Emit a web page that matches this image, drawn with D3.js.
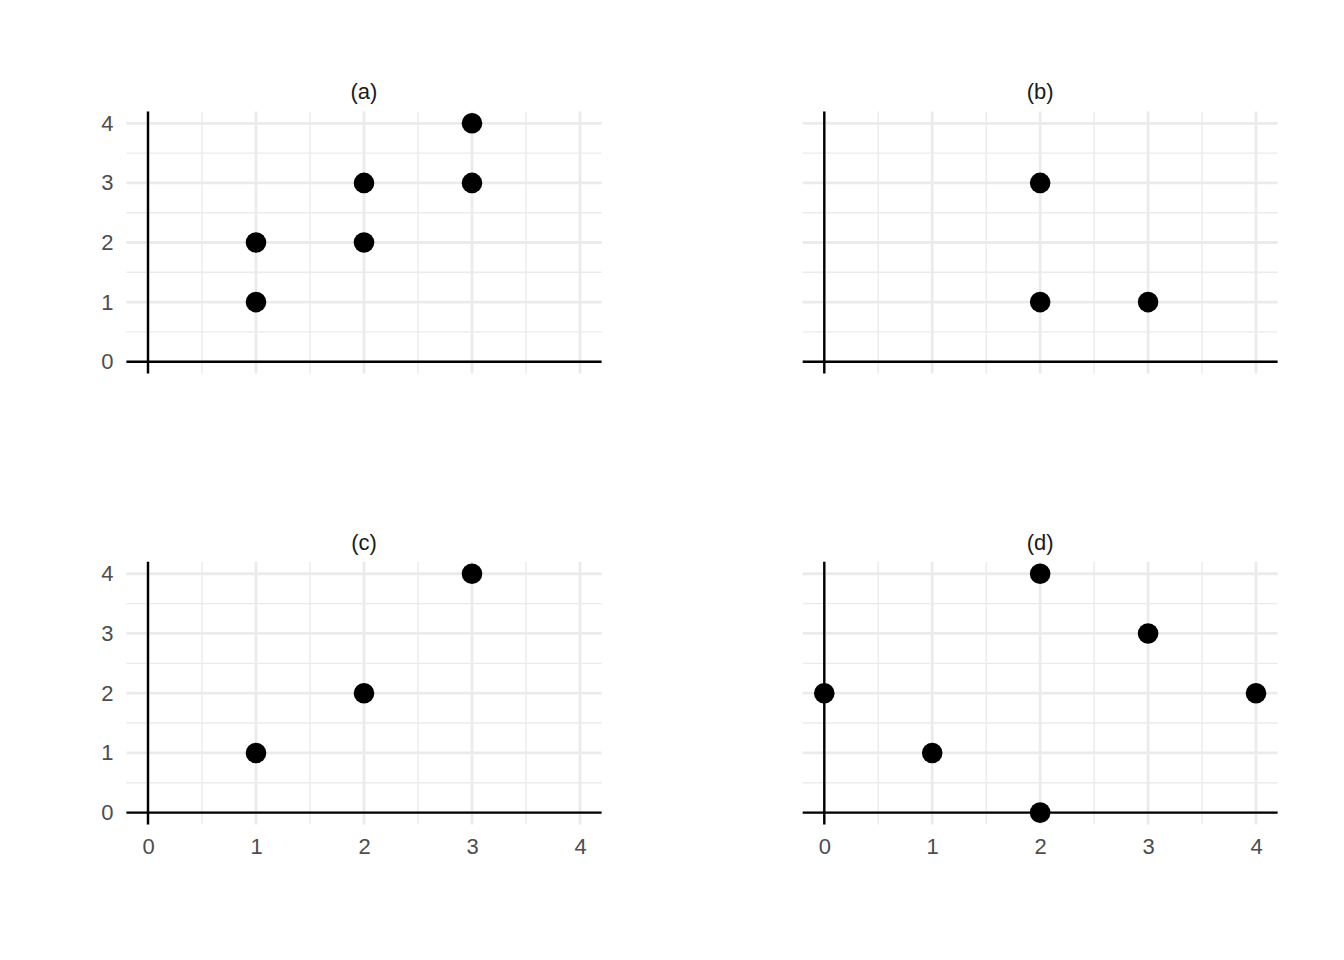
<!DOCTYPE html>
<html>
<head>
<meta charset="utf-8">
<script src="https://cdn.jsdelivr.net/npm/d3@7"></script>
<style>
  body { margin: 0; background: #fff; }
  text { font-family: "Liberation Sans", Arial, sans-serif; }
</style>
</head>
<body>
<svg id="j-svg" width="1344" height="960" viewBox="0 0 1344 960"></svg>
<script>
'use strict';

/* global d3 */

var panelTitles = ['(a)', '(b)', '(c)', '(d)'];
var ticks = [0, 1, 2, 3, 4];
var minorTicks = [0.5, 1.5, 2.5, 3.5];

var xA = [1, 1, 2, 2, 3, 3];
var yA = [1, 2, 2, 3, 3, 4];
var xB = [2, 2, 3];
var yB = [1, 3, 1];
var xC = [1, 2, 3];
var yC = [1, 2, 4];
var xD = [0, 1, 2, 2, 3, 4];
var yD = [2, 1, 0, 4, 3, 2];

var seriesX = [xA, xB, xC, xD];
var seriesY = [yA, yB, yC, yD];

var svg = d3.select('#j-svg');

var cols = [[126.4, 601.6], [802.7, 1277.6]];
var rows = [[111.4, 373.6], [561.8, 824.6]];
var fontSize = 22;

panelTitles.forEach(function (title, i) {
  var col = cols[i % 2];
  var row = rows[Math.floor(i / 2)];
  var isBottom = i >= 2;

  var x = d3.scaleLinear().domain([-0.2, 4.2]).range(col);
  var y = d3.scaleLinear().domain([-0.2, 4.2]).range([row[1], row[0]]);

  var g = svg.append('g');

  // minor grid
  g.append('g').selectAll('line').data(minorTicks).enter().append('line')
    .attr('x1', function (d) { return x(d); }).attr('x2', function (d) { return x(d); })
    .attr('y1', row[0]).attr('y2', row[1])
    .attr('stroke', '#ebebeb').attr('stroke-width', 1.4);
  g.append('g').selectAll('line').data(minorTicks).enter().append('line')
    .attr('y1', function (d) { return y(d); }).attr('y2', function (d) { return y(d); })
    .attr('x1', col[0]).attr('x2', col[1])
    .attr('stroke', '#ebebeb').attr('stroke-width', 1.4);

  // major grid
  g.append('g').selectAll('line').data(ticks).enter().append('line')
    .attr('x1', function (d) { return x(d); }).attr('x2', function (d) { return x(d); })
    .attr('y1', row[0]).attr('y2', row[1])
    .attr('stroke', '#ebebeb').attr('stroke-width', 2.8);
  g.append('g').selectAll('line').data(ticks).enter().append('line')
    .attr('y1', function (d) { return y(d); }).attr('y2', function (d) { return y(d); })
    .attr('x1', col[0]).attr('x2', col[1])
    .attr('stroke', '#ebebeb').attr('stroke-width', 2.8);

  // reference lines at zero
  g.append('line')
    .attr('x1', x(0)).attr('x2', x(0)).attr('y1', row[0]).attr('y2', row[1])
    .attr('stroke', '#000').attr('stroke-width', 2.4);
  g.append('line')
    .attr('x1', col[0]).attr('x2', col[1]).attr('y1', y(0)).attr('y2', y(0))
    .attr('stroke', '#000').attr('stroke-width', 2.4);

  // y axis on left column only
  if (i % 2 === 0) {
    var yAxis = d3.axisLeft(y).tickValues(ticks).tickFormat(d3.format('d')).tickSize(0).tickPadding(13);
    var ya = g.append('g').attr('transform', 'translate(' + col[0] + ',0)').call(yAxis);
    ya.select('.domain').remove();
    ya.selectAll('text').attr('font-size', fontSize).attr('fill', '#4d4d4d')
      .style('font-family', '"Liberation Sans", Arial, sans-serif');
  }

  // x axis on bottom row only
  if (isBottom) {
    var xAxis = d3.axisBottom(x).tickValues(ticks).tickFormat(d3.format('d')).tickSize(0).tickPadding(14);
    var xa = g.append('g').attr('transform', 'translate(0,' + row[1] + ')').call(xAxis);
    xa.select('.domain').remove();
    xa.selectAll('text').attr('font-size', fontSize).attr('fill', '#4d4d4d')
      .style('font-family', '"Liberation Sans", Arial, sans-serif');
  }

  // panel title
  g.append('text')
    .attr('x', (col[0] + col[1]) / 2)
    .attr('y', row[0] - 12)
    .attr('text-anchor', 'middle')
    .attr('font-size', fontSize)
    .attr('fill', '#1a1a1a')
    .text(title);

  // points
  var pts = seriesX[i].map(function (d, k) { return { x: d, y: seriesY[i][k] }; });
  g.append('g').selectAll('circle').data(pts).enter().append('circle')
    .attr('cx', function (d) { return x(d.x); })
    .attr('cy', function (d) { return y(d.y); })
    .attr('r', 10.3)
    .attr('fill', '#000');
});
</script>
</body>
</html>
